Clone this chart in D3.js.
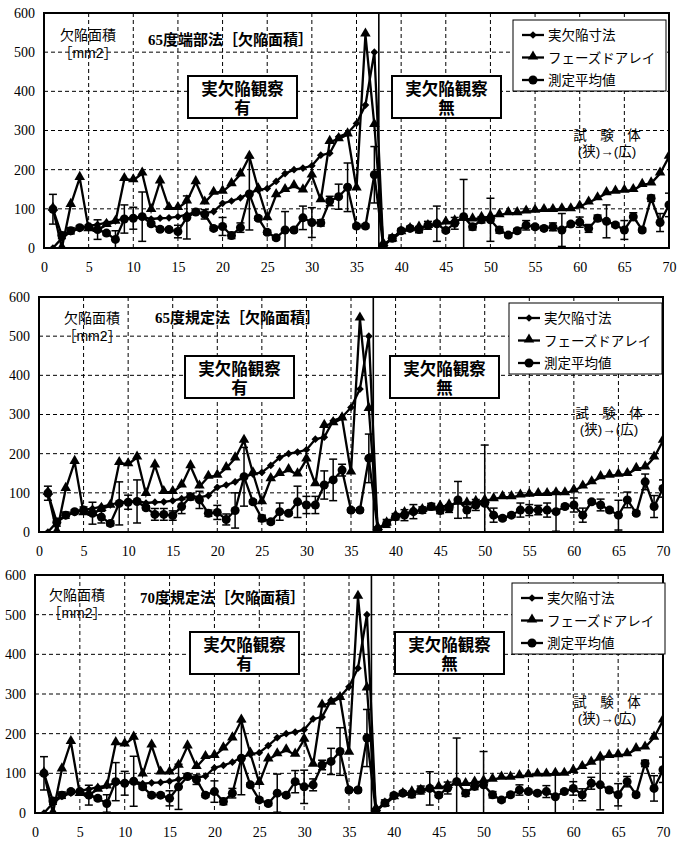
<!DOCTYPE html>
<html>
<head>
<meta charset="utf-8">
<script src="https://cdn.jsdelivr.net/npm/d3@7"></script>
<style>
  body { margin: 0; background: #fff; }
  text { fill: #000; }
</style>
</head>
<body>
<div id="chart"></div>
<script>
// 試験体番号 1..70
const specimens = [
  1, 2, 3, 4, 5, 6, 7, 8, 9, 10, 11, 12, 13, 14, 15, 16, 17, 18, 19, 20,
  21, 22, 23, 24, 25, 26, 27, 28, 29, 30, 31, 32, 33, 34, 35, 36, 37, 38, 39, 40,
  41, 42, 43, 44, 45, 46, 47, 48, 49, 50, 51, 52, 53, 54, 55, 56, 57, 58, 59, 60,
  61, 62, 63, 64, 65, 66, 67, 68, 69, 70]

// 実欠陥寸法 (only specimens 1..38)
const actualSize = [0, 25, 42, 50, 56, 60, 65, 69, 76, 76, 80, 74, 76, 77, 80, 85, 92, 89, 93, 114,
  120, 128, 140, 148, 152, 170, 190, 200, 204, 210, 237, 242, 284, 293, 318, 365, 500, 0]

// フェーズドアレイ
const phasedArray = [100, 0, 110, 179, 48, 46, 59, 67, 176, 173, 190, 97, 170, 102, 102, 119, 168, 116, 141, 144,
  163, 188, 233, 150, 76, 135, 148, 158, 147, 185, 122, 271, 278, 290, 152, 545, 314, 10, 22, 40,
  48, 52, 56, 60, 65, 68, 75, 73, 77, 80, 84, 89, 89, 93, 95, 97, 97, 99, 99, 106,
  116, 127, 140, 144, 146, 148, 161, 165, 190, 233]

// 測定平均値 and error (half range) per panel
const mean65end = [99, 32, 44, 52, 54, 47, 38, 22, 74, 76, 80, 62, 48, 47, 42, 78, 92, 86, 50, 55,
  32, 52, 138, 76, 40, 26, 46, 46, 77, 65, 64, 120, 131, 155, 56, 56, 187, 4, 25, 44,
  50, 47, 58, 62, 45, 63, 80, 54, 72, 72, 46, 33, 44, 58, 54, 50, 54, 46, 61, 66,
  50, 76, 68, 59, 46, 80, 46, 127, 65, 110]
const err65end = [38, 8, 8, 5, 5, 25, 5, 22, 36, 28, 63, 5, 5, 5, 16, 55, 5, 12, 5, 23,
  8, 12, 92, 5, 5, 5, 47, 5, 30, 38, 8, 12, 32, 62, 5, 5, 72, 8, 8, 5,
  5, 8, 10, 45, 5, 15, 95, 8, 8, 55, 8, 5, 5, 12, 5, 5, 10, 42, 5, 13,
  10, 8, 42, 5, 24, 10, 5, 8, 23, 30]

const mean65std = [99, 25, 43, 52, 56, 48, 38, 22, 73, 76, 78, 62, 45, 45, 42, 65, 90, 82, 48, 50,
  32, 55, 141, 77, 35, 26, 52, 48, 77, 69, 69, 120, 133, 158, 56, 56, 188, 5, 22, 39,
  43, 52, 56, 65, 55, 60, 82, 56, 69, 73, 43, 35, 43, 56, 56, 56, 56, 52, 65, 69,
  43, 77, 69, 56, 43, 82, 48, 128, 65, 111]
const err65std = [18, 10, 8, 5, 8, 28, 15, 6, 55, 18, 55, 5, 15, 15, 12, 18, 8, 22, 8, 18,
  14, 45, 75, 5, 8, 5, 22, 5, 40, 22, 22, 36, 53, 15, 5, 5, 62, 8, 10, 8,
  14, 18, 8, 8, 8, 10, 47, 20, 14, 149, 18, 5, 5, 18, 14, 12, 18, 50, 5, 18,
  18, 5, 15, 5, 38, 20, 5, 20, 28, 22]

const mean70std = [100, 30, 45, 54, 54, 45, 37, 24, 79, 75, 80, 66, 45, 45, 37, 66, 92, 84, 45, 54,
  29, 50, 138, 71, 33, 24, 50, 45, 79, 66, 71, 121, 130, 155, 58, 58, 189, 3, 25, 44,
  50, 47, 58, 62, 45, 63, 79, 50, 67, 71, 46, 33, 46, 58, 54, 50, 54, 41, 54, 62,
  46, 75, 71, 58, 46, 79, 46, 125, 62, 109]
const err70std = [42, 8, 8, 5, 5, 25, 5, 22, 48, 30, 63, 5, 5, 5, 19, 57, 5, 12, 5, 27,
  8, 12, 92, 5, 5, 5, 48, 5, 28, 42, 15, 12, 33, 60, 5, 5, 72, 8, 8, 5,
  5, 8, 10, 42, 5, 15, 110, 8, 8, 84, 8, 5, 5, 13, 5, 5, 15, 55, 5, 17,
  15, 15, 63, 5, 28, 13, 5, 8, 32, 32]

const yTicks = [0, 100, 200, 300, 400, 500, 600]
const xTicks = [0, 5, 10, 15, 20, 25, 30, 35, 40, 45, 50, 55, 60, 65, 70]
const legendNames = ['実欠陥寸法', 'フェーズドアレイ', '測定平均値']
const titles = ['65度端部法［欠陥面積］', '65度規定法［欠陥面積］', '70度規定法［欠陥面積］']

const serif = "'Liberation Serif', 'Noto Sans CJK JP', serif"
const jp = "'Noto Sans CJK JP', sans-serif"
// Latin primary font keeps the line box compact for stacked labels
const jpTight = "'Liberation Sans', 'Noto Sans CJK JP', sans-serif"

const panels = [
  { title: titles[0], mean: mean65end, err: err65end, left: 44, right: 669, top: 13, bottom: 248,
    unit: [44, 22], title0: [104, 27], boxA: [144, 63], boxB: [348, 63], legend: [469, 7], spec: [563, 122] },
  { title: titles[1], mean: mean65std, err: err65std, left: 39, right: 663, top: 297, bottom: 532,
    unit: [53, 21], title0: [116, 21], boxA: [146, 59], boxB: [351, 59], legend: [470, 6], spec: [570, 116] },
  { title: titles[2], mean: mean70std, err: err70std, left: 35, right: 663, top: 575, bottom: 813,
    unit: [42, 20], title0: [105, 23], boxA: [155, 57], boxB: [360, 57], legend: [477, 8], spec: [572, 127] }
]

const svg = d3.select('#chart')
  .append('svg')
  .attr('width', 678)
  .attr('height', 846)

const diamond = d3.symbol().type(d3.symbolSquare).size(30)
const triangle = d3.symbol().type(d3.symbolTriangle).size(48)

function drawMarkers (g, pts, kind) {
  if (kind === 'circle') {
    g.selectAll(null).data(pts).enter().append('circle')
      .attr('cx', d => d[0]).attr('cy', d => d[1]).attr('r', 4.5).attr('fill', '#000')
  } else if (kind === 'diamond') {
    g.selectAll(null).data(pts).enter().append('path')
      .attr('d', diamond)
      .attr('transform', d => `translate(${d[0]},${d[1]}) rotate(45)`)
      .attr('fill', '#000')
  } else {
    g.selectAll(null).data(pts).enter().append('path')
      .attr('d', triangle)
      .attr('transform', d => `translate(${d[0]},${d[1] - 1})`)
      .attr('fill', '#000')
  }
}

// two-line label as one text element
function twoLines (g, cx, y, lines, gap, attrs) {
  const t = g.append('text').attr('text-anchor', 'middle')
  Object.entries(attrs).forEach(([k, v]) => t.attr(k, v))
  lines.forEach((s, i) => {
    t.append('tspan').attr('x', cx).attr(i === 0 ? 'y' : 'dy', i === 0 ? y : gap).text(s)
  })
  return t
}

function drawPanel (p, idx) {
  const x = d3.scaleLinear().domain([0, 70]).range([p.left, p.right])
  const y = d3.scaleLinear().domain([0, 600]).range([p.bottom, p.top])
  const g = svg.append('g')

  g.append('clipPath').attr('id', 'clip' + idx)
    .append('rect')
    .attr('x', p.left).attr('y', p.top)
    .attr('width', p.right - p.left).attr('height', p.bottom - p.top)

  // dashed grid
  g.append('g').selectAll('line')
    .data(yTicks.slice(1, -1))
    .enter().append('line')
    .attr('x1', p.left).attr('x2', p.right)
    .attr('y1', d => y(d)).attr('y2', d => y(d))
    .attr('stroke', '#000').attr('stroke-width', 1).attr('stroke-dasharray', '4,3')
  g.append('g').selectAll('line')
    .data(xTicks.slice(1, -1))
    .enter().append('line')
    .attr('x1', d => x(d)).attr('x2', d => x(d))
    .attr('y1', p.top).attr('y2', p.bottom)
    .attr('stroke', '#000').attr('stroke-width', 1).attr('stroke-dasharray', '4,3')

  // axes (labels only)
  const ya = g.append('g')
    .attr('transform', `translate(${p.left},0)`)
    .call(d3.axisLeft(y).tickValues(yTicks).tickSize(0).tickPadding(9))
  const xa = g.append('g')
    .attr('transform', `translate(0,${p.bottom})`)
    .call(d3.axisBottom(x).tickValues(xTicks).tickSize(0).tickPadding(14))
  ;[ya, xa].forEach(a => {
    a.select('.domain').remove()
    a.selectAll('text').attr('font-family', serif).attr('font-size', 14).attr('fill', '#000')
  })

  // divider between observed / not observed
  g.append('line')
    .attr('x1', x(37.5)).attr('x2', x(37.5))
    .attr('y1', p.top).attr('y2', p.bottom)
    .attr('stroke', '#000').attr('stroke-width', 1.6)

  const plot = g.append('g').attr('clip-path', `url(#clip${idx})`)
  const line = d3.line().x(d => d[0]).y(d => d[1])

  const triPts = specimens.map((s, i) => [x(s), y(phasedArray[i])])
  const diaPts = actualSize.map((v, i) => [x(specimens[i]), y(v)])
  const cirPts = specimens.map((s, i) => [x(s), y(p.mean[i])])

  // error bars
  const eb = plot.append('g').attr('stroke', '#000').attr('stroke-width', 1.5)
  specimens.forEach((s, i) => {
    const cx = x(s)
    const hi = y(p.mean[i] + p.err[i])
    const lo = y(p.mean[i] - p.err[i])
    eb.append('line').attr('x1', cx).attr('x2', cx).attr('y1', hi).attr('y2', lo)
    eb.append('line').attr('x1', cx - 4).attr('x2', cx + 4).attr('y1', hi).attr('y2', hi)
    eb.append('line').attr('x1', cx - 4).attr('x2', cx + 4).attr('y1', lo).attr('y2', lo)
  })

  plot.append('path').attr('d', line(triPts)).attr('fill', 'none').attr('stroke', '#000').attr('stroke-width', 2.3)
  plot.append('path').attr('d', line(diaPts)).attr('fill', 'none').attr('stroke', '#000').attr('stroke-width', 2.3)
  plot.append('path').attr('d', line(cirPts)).attr('fill', 'none').attr('stroke', '#000').attr('stroke-width', 2.3)
  drawMarkers(plot.append('g'), triPts, 'triangle')
  drawMarkers(plot.append('g'), diaPts, 'diamond')
  drawMarkers(plot.append('g'), cirPts, 'circle')

  // frame
  g.append('rect')
    .attr('x', p.left).attr('y', p.top)
    .attr('width', p.right - p.left).attr('height', p.bottom - p.top)
    .attr('fill', 'none').attr('stroke', '#000').attr('stroke-width', 2)

  // unit label
  twoLines(g, p.left + p.unit[0], p.top + p.unit[1] + 5, ['欠陥面積', '［mm2］'], 18,
    { 'font-family': jpTight, 'font-size': 14 })

  // title
  g.append('text')
    .attr('x', p.left + p.title0[0]).attr('y', p.top + p.title0[1] + 5)
    .attr('font-family', serif).attr('font-size', 15).attr('font-weight', 'bold')
    .text(p.title)

  // observation boxes
  ;[[p.boxA, '有'], [p.boxB, '無']].forEach(([pos, mark]) => {
    const bx = p.left + pos[0]
    const by = p.top + pos[1]
    g.append('rect')
      .attr('x', bx).attr('y', by).attr('width', 109).attr('height', 42)
      .attr('fill', '#fff').attr('stroke', '#000').attr('stroke-width', 2)
    twoLines(g, bx + 54.5, by + 19, ['実欠陥観察', mark], 19,
      { 'font-family': jpTight, 'font-size': 16.5, 'font-weight': 'bold' })
  })

  // legend
  const lx = p.left + p.legend[0]
  const ly = p.top + p.legend[1]
  g.append('rect')
    .attr('x', lx).attr('y', ly).attr('width', 153).attr('height', 71)
    .attr('fill', '#fff').attr('stroke', '#000').attr('stroke-width', 1)
  const kinds = ['diamond', 'triangle', 'circle']
  legendNames.forEach((name, i) => {
    const ry = ly + 15 + i * 22.5
    g.append('line')
      .attr('x1', lx + 9).attr('x2', lx + 31).attr('y1', ry).attr('y2', ry)
      .attr('stroke', '#000').attr('stroke-width', 2.3)
    drawMarkers(g.append('g'), [[lx + 20, ry]], kinds[i])
    g.append('text')
      .attr('x', lx + 35).attr('y', ry + 5)
      .attr('font-family', jp).attr('font-size', 13.5)
      .text(name)
  })

  // specimen note
  twoLines(g, p.left + p.spec[0], p.top + p.spec[1] + 5, ['試　験　体', '(狭)→(広)'], 15.5,
    { 'font-family': jpTight, 'font-size': 13.5 })
}

panels.forEach(drawPanel)
</script>
</body>
</html>
